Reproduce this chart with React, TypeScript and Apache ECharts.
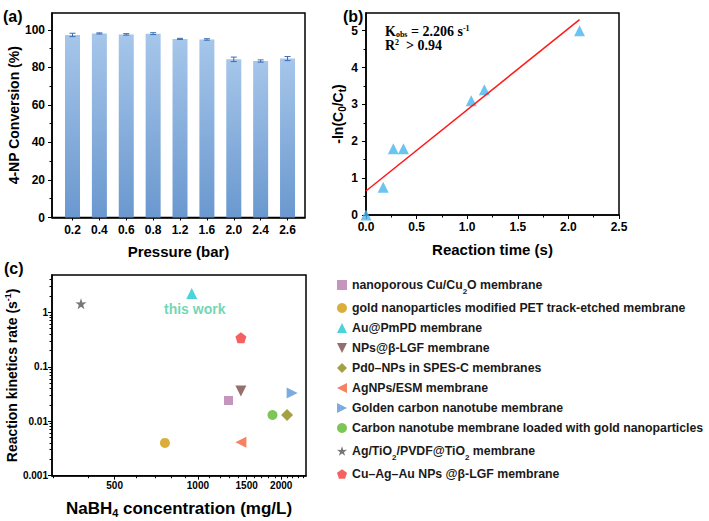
import React, { useEffect, useRef } from 'react';
import * as echarts from 'echarts';

// ---------- Panel (a) data ----------
const pressures = ['0.2', '0.4', '0.6', '0.8', '1.2', '1.6', '2.0', '2.4', '2.6'];
const conversion = [97.3, 98.1, 97.6, 98.0, 95.2, 94.9, 84.3, 83.4, 84.7];
const conversionErr = [0.9, 0.3, 0.4, 0.5, 0.3, 0.4, 1.2, 0.6, 1.1];
const convTicks = [0, 20, 40, 60, 80, 100];
const convMinorTicks = [10, 30, 50, 70, 90];

// ---------- Panel (b) data ----------
const timeS = [0, 0.17, 0.27, 0.37, 1.04, 1.17, 2.11];
const lnRatio = [0, 0.75, 1.8, 1.8, 3.1, 3.4, 5.0];
const fitTime = [0, 2.11];
const fitLn = [0.65, 5.3];
const timeMinorTicks = [0.25, 0.75, 1.25, 1.75, 2.25];
const lnTicks = [0, 1, 2, 3, 4, 5];
const lnMinorTicks = [0.5, 1.5, 2.5, 3.5, 4.5];

// ---------- Panel (c) data ----------
const membranes = [
  'nanoporous Cu/Cu2O membrane',
  'gold nanoparticles modified PET track-etched membrane',
  'Au@PmPD membrane',
  'NPs@β-LGF membrane',
  'Pd0–NPs in SPES-C membranes',
  'AgNPs/ESM membrane',
  'Golden carbon nanotube membrane',
  'Carbon nanotube membrane loaded with gold nanoparticles',
  'Ag/TiO2/PVDF@TiO2 membrane',
  'Cu–Ag–Au NPs @β-LGF membrane',
];
const nabh4 = [1290, 760, 950, 1430, 2100, 1430, 2190, 1860, 378, 1430];
const kRate = [0.024, 0.004, 2.206, 0.036, 0.013, 0.0041, 0.033, 0.013, 1.44, 0.34];
const concLabels = [500, 1000, 1500, 2000];
const concMinorTicks = [300, 400, 600, 700, 800, 900, 1100, 1200, 1300, 1400, 1600, 1700, 1800, 1900, 2100, 2200, 2300, 2400];
const rateLabels = [0.001, 0.01, 0.1, 1];
const rateMinorTicks = [
  0.002, 0.003, 0.004, 0.005, 0.006, 0.007, 0.008, 0.009,
  0.02, 0.03, 0.04, 0.05, 0.06, 0.07, 0.08, 0.09,
  0.2, 0.3, 0.4, 0.5, 0.6, 0.7, 0.8, 0.9,
  2, 3, 4,
];

// ---------- styles ----------
const STAR = 'path://M50,0 L61.8,35.1 L97.6,34.5 L68.8,56.6 L79.4,90.5 L50,70 L20.6,90.5 L31.2,56.6 L2.4,34.5 L38.2,35.1 Z';
const PENT = 'path://M50,0 L97.6,34.5 L79.4,90.5 L20.6,90.5 L2.4,34.5 Z';
const TRI_DOWN = 'path://M0,0 L10,0 L5,10 Z';
const TRI_LEFT = 'path://M10,0 L10,10 L0,5 Z';
const TRI_RIGHT = 'path://M0,0 L0,10 L10,5 Z';
const memStyles = [
  { symbol: 'rect', size: 9, color: '#b57cae' },
  { symbol: 'circle', size: 10, color: '#d19a0c' },
  { symbol: 'triangle', size: 11, color: '#1ec8d2' },
  { symbol: TRI_DOWN, size: 11, color: '#7a4a4a' },
  { symbol: 'diamond', size: 12, color: '#8c8a14' },
  { symbol: TRI_LEFT, size: 11, color: '#f5623a' },
  { symbol: TRI_RIGHT, size: 11, color: '#5b96d8' },
  { symbol: 'circle', size: 10, color: '#5ab82c' },
  { symbol: STAR, size: 11, color: '#555555' },
  { symbol: PENT, size: 11, color: '#f23a3a' },
];
const richNames: Record<string, string> = {
  'nanoporous Cu/Cu2O membrane': '{m|nanoporous Cu/Cu}{sub|2}{m|O membrane}',
  'Ag/TiO2/PVDF@TiO2 membrane': '{m|Ag/TiO}{sub|2}{m|/PVDF@TiO}{sub|2}{m| membrane}',
};

const FONT = '"Liberation Sans", Arial, sans-serif';
const SERIF = '"Liberation Serif", "Times New Roman", serif';
const lbl = (size: number) => ({ fontFamily: FONT, fontWeight: 'bold' as const, fontSize: size, color: '#000' });
const axisLine = { show: true, onZero: false, lineStyle: { color: '#000', width: 1.5 } };

const gridA = { left: 52, top: 13, width: 253, height: 204.5 };
const gridB = { left: 366, top: 13, width: 253, height: 202 };
const gridC = { left: 52, top: 275, width: 254, height: 200.7 };

function minorAxis(gridIndex: number, type: string, min: number, max: number, values: number[]) {
  return {
    gridIndex, type, min, max,
    axisLine: { show: false },
    axisLabel: { show: false },
    splitLine: { show: false },
    axisTick: { show: true, customValues: values, length: 2.5, lineStyle: { color: '#000', width: 1 } },
  };
}

export default function App() {
  const ref = useRef<HTMLDivElement>(null);
  useEffect(() => {
    if (!ref.current) return;
    const chart = echarts.init(ref.current, null, { renderer: 'svg' });
    const barGradient = new echarts.graphic.LinearGradient(0, 0, 0, 1, [
      { offset: 0, color: '#a6c6ea' },
      { offset: 1, color: '#6a98cf' },
    ]);
    const errStyle = { stroke: '#3a6fb5', lineWidth: 1 };
    const legendText = '#1a1a1a';

    const option: any = {
      animation: false,
      backgroundColor: '#fff',
      grid: [
        { ...gridA, show: true, borderColor: '#000', borderWidth: 1.5, outerBoundsMode: 'none' },
        { ...gridB, show: true, borderColor: '#000', borderWidth: 1.5, outerBoundsMode: 'none' },
        { ...gridC, show: true, borderColor: '#000', borderWidth: 1.5, outerBoundsMode: 'none' },
        { ...gridA, outerBoundsMode: 'none' },
        { ...gridB, outerBoundsMode: 'none' },
        { ...gridC, outerBoundsMode: 'none' },
      ],
      xAxis: [
        {
          gridIndex: 0, type: 'value', min: 0.237, max: 9.65,
          axisLine, splitLine: { show: false },
          axisTick: { customValues: pressures.map((_, i) => i + 1), length: 3, lineStyle: { color: '#000', width: 1 } },
          axisLabel: { ...lbl(12), customValues: pressures.map((_, i) => i + 1), margin: 6,
            formatter: (v: number) => pressures[Math.round(v) - 1] },
          name: 'Pressure (bar)', nameLocation: 'middle', nameGap: 26, nameTextStyle: lbl(15),
        },
        {
          gridIndex: 1, type: 'value', min: 0, max: 2.5, interval: 0.5,
          axisLine, splitLine: { show: false },
          axisTick: { length: 4, lineStyle: { color: '#000', width: 1 } },
          axisLabel: { ...lbl(12), margin: 6, formatter: (v: number) => v.toFixed(1) },
          name: 'Reaction time (s)', nameLocation: 'middle', nameGap: 27, nameTextStyle: lbl(15),
        },
        {
          gridIndex: 2, type: 'log', logBase: 10, min: 297, max: 2458,
          axisLine, splitLine: { show: false },
          axisTick: { customValues: concLabels, length: 4, lineStyle: { color: '#000', width: 1 } },
          axisLabel: { ...lbl(10), customValues: concLabels, margin: 5, formatter: (v: number) => String(Math.round(v)) },
          name: '{m|NaBH}{s|4}{m| concentration (mg/L)}', nameLocation: 'middle', nameGap: 23,
          nameTextStyle: { ...lbl(17), rich: { m: lbl(17), s: { ...lbl(11), padding: [9, 0, 0, 0] } } },
        },
        minorAxis(3, 'value', 0.237, 9.65, []),
        minorAxis(4, 'value', 0, 2.5, timeMinorTicks),
        minorAxis(5, 'log', 297, 2458, concMinorTicks),
      ],
      yAxis: [
        {
          gridIndex: 0, type: 'value', min: 0, max: 109,
          axisLine, splitLine: { show: false },
          axisTick: { customValues: convTicks, length: 4, lineStyle: { color: '#000', width: 1 } },
          axisLabel: { ...lbl(12), customValues: convTicks, margin: 7 },
          name: '4-NP Conversion (%)', nameLocation: 'middle', nameRotate: 90, nameGap: 31, nameTextStyle: lbl(14),
        },
        {
          gridIndex: 1, type: 'value', min: 0, max: 5.48,
          axisLine, splitLine: { show: false },
          axisTick: { customValues: lnTicks, length: 4, lineStyle: { color: '#000', width: 1 } },
          axisLabel: { ...lbl(12), customValues: lnTicks, margin: 8 },
          name: '{m|-ln(C}{s|0}{m|/C}{s|t}{m|)}', nameLocation: 'middle', nameRotate: 90, nameGap: 16,
          nameTextStyle: { ...lbl(14), rich: { m: lbl(14), s: { ...lbl(10), padding: [8, 0, 0, 0] } } },
        },
        {
          gridIndex: 2, type: 'log', logBase: 10, min: 0.001, max: 4.84,
          axisLine, splitLine: { show: false },
          axisTick: { customValues: rateLabels, length: 4, lineStyle: { color: '#000', width: 1 } },
          axisLabel: { ...lbl(10), customValues: rateLabels, margin: 4, formatter: (v: number) => String(v) },
          name: '{m|Reaction kinetics rate (s}{p|-1}{m|)}', nameLocation: 'middle', nameRotate: 90, nameGap: 31,
          nameTextStyle: { ...lbl(14), rich: { m: lbl(14), p: { ...lbl(9), padding: [0, 0, 8, 0] } } },
        },
        minorAxis(3, 'value', 0, 109, convMinorTicks),
        minorAxis(4, 'value', 0, 5.48, lnMinorTicks),
        minorAxis(5, 'log', 0.001, 4.84, rateMinorTicks),
      ],
      legend: {
        orient: 'vertical', left: 332, top: 270,
        itemWidth: 10, itemHeight: 10, itemGap: 6,
        data: membranes,
        formatter: (name: string) => richNames[name] || name,
        textStyle: {
          ...lbl(12.3), color: legendText, lineHeight: 14,
          rich: {
            m: { ...lbl(12.3), color: legendText, lineHeight: 20 },
            sub: { ...lbl(8), color: legendText, lineHeight: 13, verticalAlign: 'bottom' },
          },
        },
      },
      graphic: [
        { type: 'text', left: 3, top: 8, style: { text: '(a)', font: `bold 16px ${FONT}`, fill: '#000' } },
        { type: 'text', left: 343, top: 8, style: { text: '(b)', font: `bold 16px ${FONT}`, fill: '#000' } },
        { type: 'text', left: 4, top: 260, style: { text: '(c)', font: `bold 16px ${FONT}`, fill: '#000' } },
        {
          type: 'text', left: 385, top: 24,
          style: {
            text: '{m|K}{s|obs}{m| = 2.206 s}{p|-1}\n{m|R}{p|2}{m|  > 0.94}',
            fill: '#000',
            font: `bold 14px ${SERIF}`,
            lineHeight: 14,
            rich: {
              m: { font: `bold 14px ${SERIF}`, fill: '#000', lineHeight: 14 },
              s: { font: `bold 8px ${SERIF}`, fill: '#000', padding: [6, 0, 0, 0], lineHeight: 14 },
              p: { font: `bold 8px ${SERIF}`, fill: '#000', padding: [0, 0, 6, 0], lineHeight: 14 },
            },
          },
        },
      ],
      series: [
        {
          type: 'bar', xAxisIndex: 0, yAxisIndex: 0, barWidth: 15,
          data: conversion.map((v, i) => [i + 1, v]),
          itemStyle: { color: barGradient },
        },
        {
          type: 'custom', xAxisIndex: 0, yAxisIndex: 0, z: 5,
          data: conversion.map((v, i) => [i + 1, v, conversionErr[i]]),
          encode: { x: 0, y: 1 },
          renderItem: (params: any, api: any) => {
            const x = api.value(0), y = api.value(1), e = api.value(2);
            const t = api.coord([x, y + e]);
            const b = api.coord([x, y - e]);
            const hw = 3;
            return {
              type: 'group',
              children: [
                { type: 'line', shape: { x1: t[0], y1: t[1], x2: b[0], y2: b[1] }, style: errStyle },
                { type: 'line', shape: { x1: t[0] - hw, y1: t[1], x2: t[0] + hw, y2: t[1] }, style: errStyle },
                { type: 'line', shape: { x1: b[0] - hw, y1: b[1], x2: b[0] + hw, y2: b[1] }, style: errStyle },
              ],
            };
          },
        },
        {
          type: 'line', xAxisIndex: 1, yAxisIndex: 1, showSymbol: false, symbol: 'none',
          data: fitTime.map((t, i) => [t, fitLn[i]]),
          lineStyle: { color: '#ff1a1a', width: 1.5 },
        },
        {
          type: 'scatter', xAxisIndex: 1, yAxisIndex: 1, symbol: 'triangle', symbolSize: 11,
          data: timeS.map((t, i) => [t, lnRatio[i]]),
          itemStyle: { color: '#47b6ee' },
        },
        ...membranes.map((name, i) => ({
          type: 'scatter', name, xAxisIndex: 2, yAxisIndex: 2,
          symbol: memStyles[i].symbol, symbolSize: memStyles[i].size,
          itemStyle: { color: memStyles[i].color },
          data: [i === 2
            ? { value: [nabh4[i], kRate[i]], label: { show: true, position: 'bottom', distance: 3, offset: [3, 0], formatter: 'this work', ...lbl(14), color: '#4ecba0' } }
            : [nabh4[i], kRate[i]]],
        })),
      ],
    };
    chart.setOption(option);
    return () => chart.dispose();
  }, []);
  return <div ref={ref} style={{ position: 'absolute', left: 0, top: 0, width: 709, height: 521, background: '#fff' }} />;
}
